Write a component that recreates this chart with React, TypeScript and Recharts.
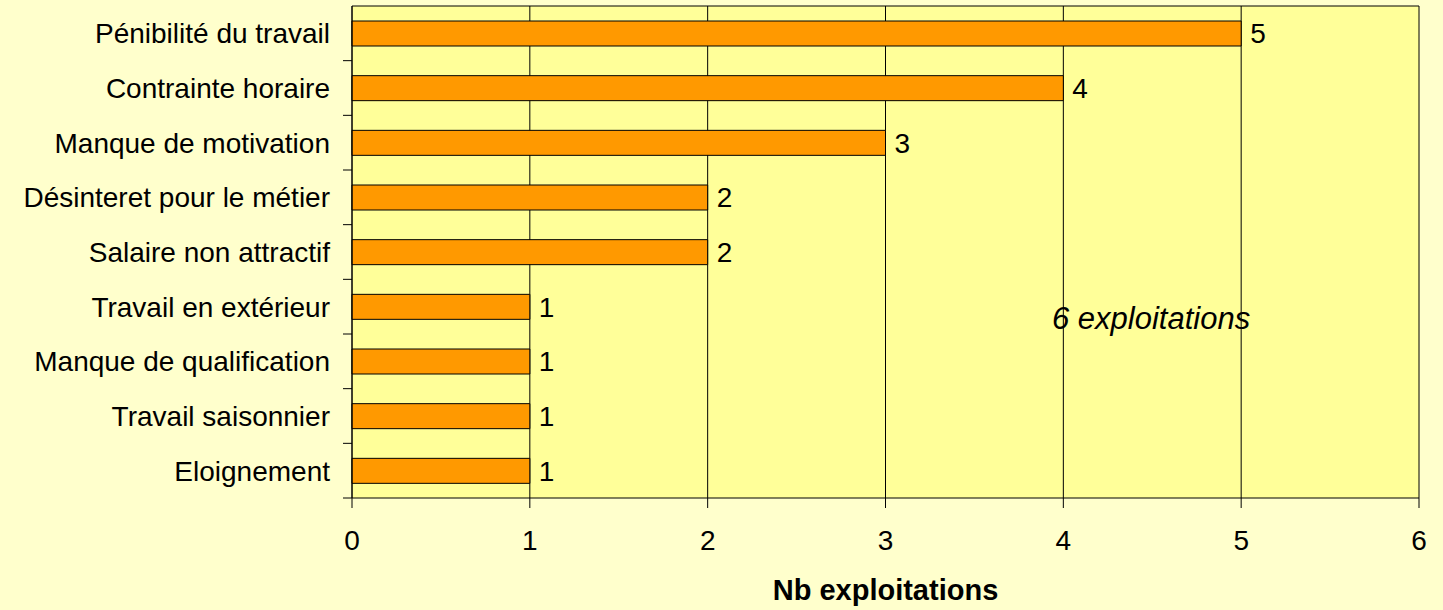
import React from "react";
import {
  BarChart,
  Bar,
  XAxis,
  YAxis,
  CartesianGrid,
  LabelList,
} from "recharts";

const reasons = [
  "Pénibilité du travail",
  "Contrainte horaire",
  "Manque de motivation",
  "Désinteret pour le métier",
  "Salaire non attractif",
  "Travail en extérieur",
  "Manque de qualification",
  "Travail saisonnier",
  "Eloignement",
];
const counts = [5, 4, 3, 2, 2, 1, 1, 1, 1];
const xTicks = [0, 1, 2, 3, 4, 5, 6];

const data = reasons.map((name, i) => ({ name, value: counts[i] }));

const W = 1443;
const H = 610;
const TOP = 6;
const RIGHT = 24;
const Y_AXIS_W = 352;
const X_AXIS_H = 112;
const FONT = "'Liberation Sans', Arial, sans-serif";
const band = (H - TOP - X_AXIS_H) / reasons.length;

function CategoryTick(props: any) {
  const { x, y, payload } = props;
  return (
    <g>
      <text
        x={x}
        y={y}
        dy="0.36em"
        textAnchor="end"
        fontSize={28}
        fontFamily={FONT}
        fill="#000"
      >
        {payload.value}
      </text>
      <line
        x1={x + 13}
        x2={x + 22}
        y1={y + band / 2}
        y2={y + band / 2}
        stroke="#000"
        strokeWidth={1}
      />
    </g>
  );
}

function AxisTitle(props: any) {
  const { x, y, width } = props.viewBox;
  return (
    <text
      x={x + width / 2}
      y={y + 102}
      textAnchor="middle"
      fontSize={29}
      fontWeight="bold"
      fontFamily={FONT}
      fill="#000"
    >
      Nb exploitations
    </text>
  );
}

export default function App() {
  return (
    <div
      style={{
        position: "fixed",
        left: 0,
        top: 0,
        width: W,
        height: H,
        background: "#FFFFCC",
        fontFamily: FONT,
      }}
    >
      <BarChart
        width={W}
        height={H}
        data={data}
        layout="vertical"
        margin={{ top: TOP, right: RIGHT, bottom: 0, left: 0 }}
        barCategoryGap={0}
      >
        <CartesianGrid
          fill="#FFFF99"
          stroke="#000"
          vertical={true}
          horizontal={true}
          horizontalCoordinatesGenerator={({ offset }: any) => [offset.top]}
        />
        <XAxis
          type="number"
          domain={[0, 6]}
          ticks={xTicks}
          height={X_AXIS_H}
          tickSize={10}
          tickMargin={22}
          interval={0}
          axisLine={{ stroke: "#000" }}
          tickLine={{ stroke: "#000" }}
          tick={{ fontSize: 28, fill: "#000", fontFamily: FONT }}
          label={<AxisTitle />}
        />
        <YAxis
          type="category"
          dataKey="name"
          width={Y_AXIS_W}
          tickSize={9}
          tickMargin={13}
          tickLine={false}
          axisLine={{ stroke: "#000" }}
          interval={0}
          tick={<CategoryTick />}
        />
        <Bar
          dataKey="value"
          fill="#FF9900"
          stroke="#000"
          strokeWidth={1}
          barSize={25}
          isAnimationActive={false}
        >
          <LabelList
            dataKey="value"
            position="right"
            offset={9}
            fontSize={28}
            fontFamily={FONT}
            fill="#000"
          />
        </Bar>
      </BarChart>
      <div
        style={{
          position: "absolute",
          left: 1052,
          top: 303,
          fontSize: 31,
          lineHeight: 1,
          fontStyle: "italic",
          fontFamily: FONT,
          color: "#000",
          whiteSpace: "nowrap",
        }}
      >
        6 exploitations
      </div>
    </div>
  );
}
